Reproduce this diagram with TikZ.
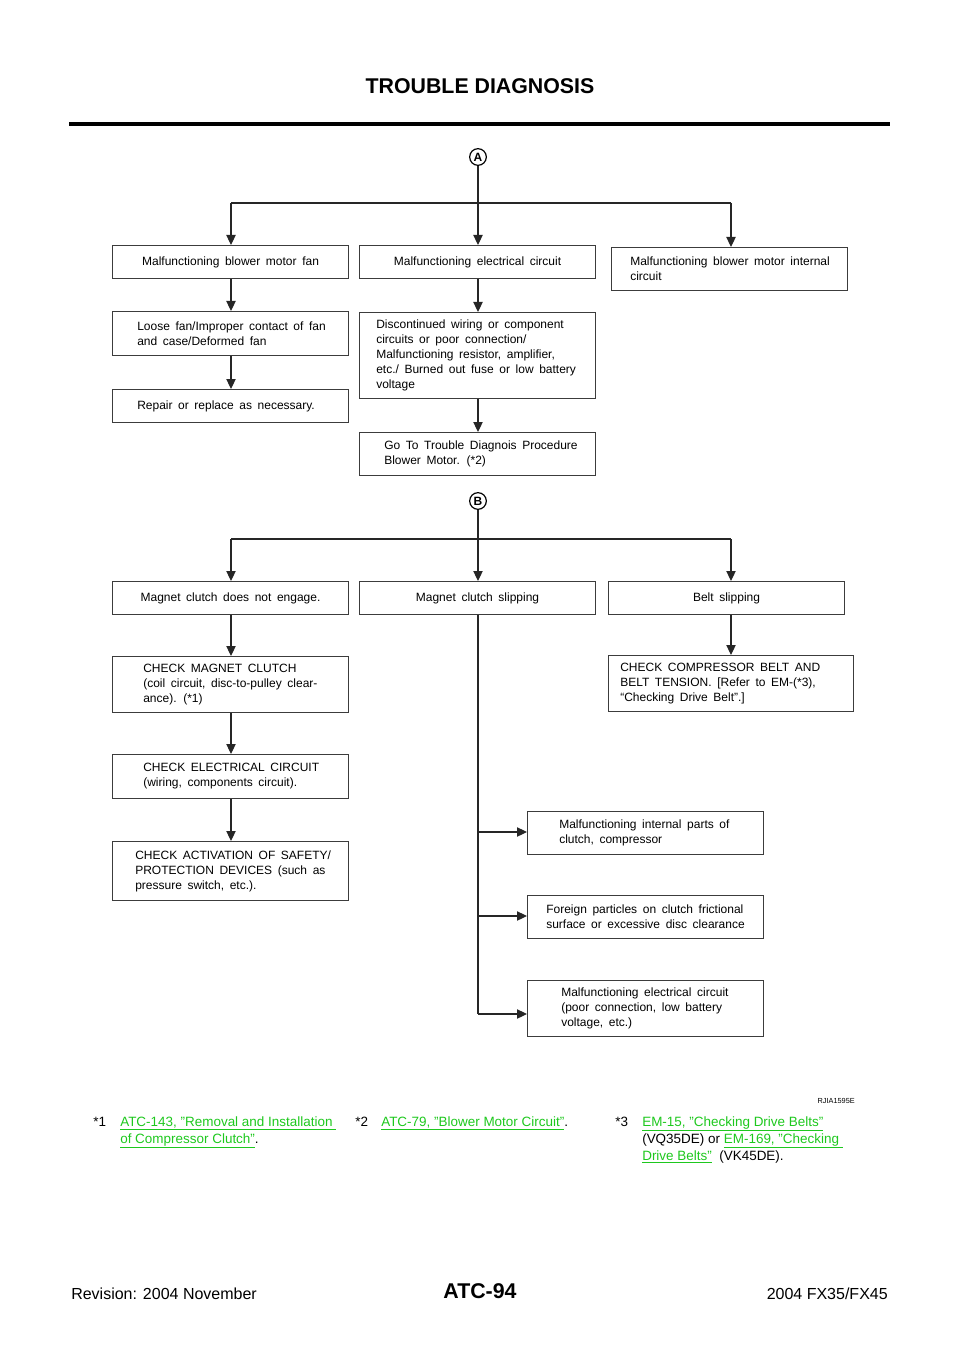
\documentclass[tikz,border=0pt]{standalone}
\usepackage{fontspec}
\setmainfont{Liberation Sans}
\usetikzlibrary{arrows.meta,calc}
\definecolor{linkgreen}{RGB}{30,200,30}
\definecolor{boxline}{RGB}{60,60,60}
\newcommand\bxfont{\fontsize{9}{11.25}\selectfont\spaceskip 4.2pt plus 1pt minus 0.5pt\relax}
\tikzset{
  box/.style={draw=boxline, line width=0.8pt, inner sep=0pt, anchor=north west},
  txt/.style={inner sep=0pt, align=left, text=black, font=\bxfont},
  arr/.style={line width=0.8pt, draw=black!85, -{Triangle[width=7pt,length=7.5pt]}},
  conn/.style={line width=0.8pt, draw=black!85},
  circ/.style={circle, draw, line width=0.9pt, inner sep=0pt, minimum size=12.5pt, font=\bfseries\fontsize{9}{9}\selectfont},
  foot/.style={inner sep=0pt, anchor=base west, font=\fontsize{10.1}{12.75}\selectfont},
}
\newcommand\mybox[5]{%
  \node[box, minimum width={(#4-#2)*0.75pt}, minimum height={(#5-#3)*0.75pt}] (#1) at (#2,#3) {};}
\newcommand\boxlt[3]{\node[txt, anchor=west] (#1t) at ([xshift=#2*0.75pt]#1.west) {#3};}
\newcommand\boxct[2]{\node[txt, align=center] (#1t) at (#1.center) {#2};}
\newcommand\lnk[1]{\textcolor{linkgreen}{\underline{#1}}}
\begin{document}
\begin{tikzpicture}[x=0.75pt,y=-0.75pt]
\useasboundingbox (0,0) rectangle (960,1358);
% header
\node[font=\bfseries\fontsize{16}{16}\selectfont] (title) at (480,86) {TROUBLE DIAGNOSIS};
\coordinate (rl) at (69,124); \coordinate (rr) at (890,124);
\draw[line width=2.3pt] (rl) -- (rr);

% ---- A section
\node[circ] (A) at (478,157) {A};
\mybox{b1}{112}{245}{348}{278} \boxct{b1}{Malfunctioning blower motor fan}
\mybox{b2}{359}{245}{595}{278} \boxct{b2}{Malfunctioning electrical circuit}
\mybox{b3}{611}{247}{847}{290} \boxlt{b3}{19}{Malfunctioning blower motor internal\\circuit}
\mybox{b4}{112}{311}{348}{355} \boxlt{b4}{25}{Loose fan/Improper contact of fan\\and case/Deformed fan}
\mybox{b5}{112}{389}{348}{422} \boxlt{b5}{25}{Repair or replace as necessary.}
\mybox{b6}{359}{312}{595}{398} \boxlt{b6}{17}{Discontinued wiring or component\\circuits or poor connection/\\Malfunctioning resistor, amplifier,\\etc./ Burned out fuse or low battery\\voltage}
\mybox{b7}{359}{432}{595}{475} \boxlt{b7}{25}{Go To Trouble Diagnois Procedure\\Blower Motor. (*2)}

\coordinate (jA1) at (231,203); \coordinate (jA2) at (478,203); \coordinate (jA3) at (731,203);
\draw[conn] (jA1) -- (jA3);
\draw[arr] (A.south) -- (jA2 |- b2.north);
\draw[arr] (jA1) -- (jA1 |- b1.north);
\draw[arr] (jA3) -- (jA3 |- b3.north);
\draw[arr] (b1.south -| jA1) -- (jA1 |- b4.north);
\draw[arr] (b4.south -| jA1) -- (jA1 |- b5.north);
\draw[arr] (b2.south -| jA2) -- (jA2 |- b6.north);
\draw[arr] (b6.south -| jA2) -- (jA2 |- b7.north);

% ---- B section
\node[circ] (B) at (478,501) {B};
\mybox{b8}{112}{581}{348}{614} \boxct{b8}{Magnet clutch does not engage.}
\mybox{b9}{359}{581}{595}{614} \boxct{b9}{Magnet clutch slipping}
\mybox{b10}{608}{581}{844}{614} \boxct{b10}{Belt slipping}
\mybox{b11}{112}{656}{348}{712} \boxlt{b11}{31}{CHECK MAGNET CLUTCH\\(coil circuit, disc-to-pulley clear-\\ance). (*1)}
\mybox{b12}{608}{655}{853}{711} \boxlt{b12}{12}{CHECK COMPRESSOR BELT AND\\BELT TENSION. [Refer to EM-(*3),\\“Checking Drive Belt”.]}
\mybox{b13}{112}{754}{348}{798} \boxlt{b13}{31}{CHECK ELECTRICAL CIRCUIT\\(wiring, components circuit).}
\mybox{b14}{112}{841}{348}{900} \boxlt{b14}{23}{CHECK ACTIVATION OF SAFETY/\\PROTECTION DEVICES (such as\\pressure switch, etc.).}
\mybox{b15}{527}{811}{763}{854} \boxlt{b15}{32}{Malfunctioning internal parts of\\clutch, compressor}
\mybox{b16}{527}{895}{763}{938} \boxlt{b16}{19}{Foreign particles on clutch frictional\\surface or excessive disc clearance}
\mybox{b17}{527}{980}{763}{1036} \boxlt{b17}{34}{Malfunctioning electrical circuit\\(poor connection, low battery\\voltage, etc.)}

\coordinate (jB1) at (231,539); \coordinate (jB2) at (478,539); \coordinate (jB3) at (731,539);
\draw[conn] (jB1) -- (jB3);
\draw[arr] (B.south) -- (jB2 |- b9.north);
\draw[arr] (jB1) -- (jB1 |- b8.north);
\draw[arr] (jB3) -- (jB3 |- b10.north);
\draw[arr] (b8.south -| jB1) -- (jB1 |- b11.north);
\draw[arr] (b11.south -| jB1) -- (jB1 |- b13.north);
\draw[arr] (b13.south -| jB1) -- (jB1 |- b14.north);
\draw[arr] (b10.south -| jB3) -- (jB3 |- b12.north);
\coordinate (m1) at (478,832); \coordinate (m2) at (478,916); \coordinate (m3) at (478,1014);
\draw[conn] (b9.south -| jB2) -- (m3);
\draw[arr] (m1) -- (m1 -| b15.west);
\draw[arr] (m2) -- (m2 -| b16.west);
\draw[arr] (m3) -- (m3 -| b17.west);

\node[inner sep=0pt, anchor=east, font=\fontsize{5.5}{5.5}\selectfont] (code) at (855,1101) {RJIA1595E};

% ---- footnotes
\node[foot] (f1a) at (93,1126) {*1};
\node[foot] (f1b) at (120,1126) {\lnk{ATC-143, "Removal and Installation\ }};
\node[foot] (f1c) at (120,1143) {\lnk{of Compressor Clutch"}.};
\node[foot] (f2a) at (355,1126) {*2};
\node[foot] (f2b) at (381,1126) {\lnk{ATC-79, "Blower Motor Circuit"}.};
\node[foot] (f3a) at (615,1126) {*3};
\node[foot] (f3b) at (642,1126) {\lnk{EM-15, "Checking Drive Belts"}};
\node[foot] (f3c) at (642,1143) {(VQ35DE) or \lnk{EM-169, "Checking\ }};
\node[foot] (f3d) at (642,1160) {\lnk{Drive Belts"}\ \ (VK45DE).};

% ---- footer
\node[inner sep=0pt, anchor=base west, font=\fontsize{12}{12}\selectfont] (rev) at (71,1299) {Revision: 2004 November};
\node[inner sep=0pt, anchor=base, font=\bfseries\fontsize{16}{16}\selectfont] (pg) at (480,1298) {ATC-94};
\node[inner sep=0pt, anchor=base east, font=\fontsize{12}{12}\selectfont] (mdl) at (888,1299) {2004 FX35/FX45};
\end{tikzpicture}
\end{document}
